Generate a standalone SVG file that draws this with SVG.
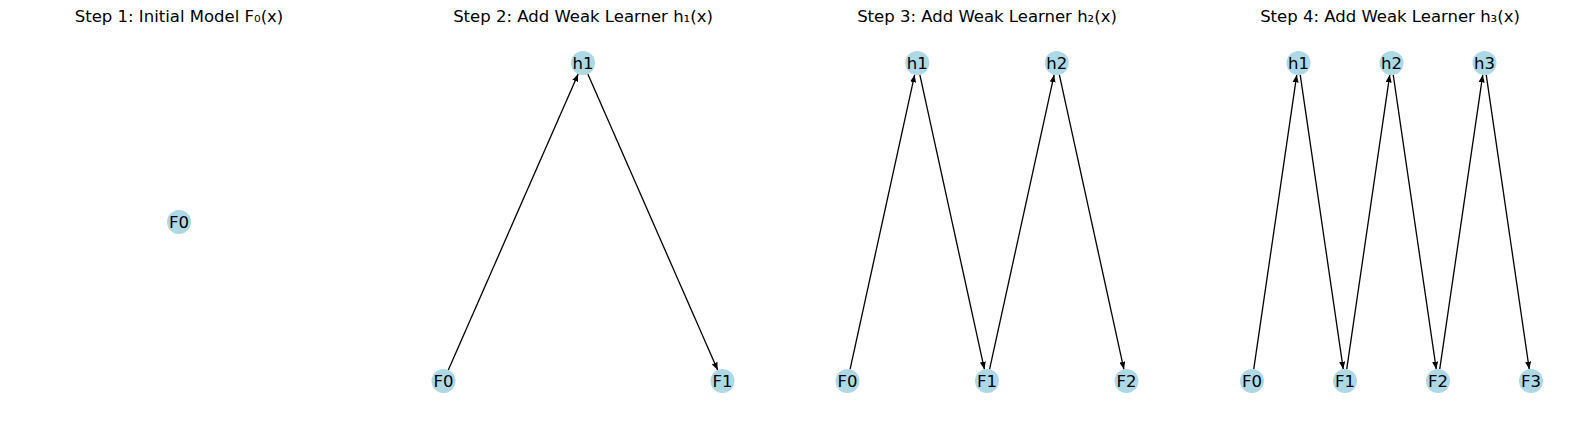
<svg xmlns="http://www.w3.org/2000/svg" width="1570" height="425" viewBox="0 0 1570 425">
<style>
.t{font-family:"DejaVu Sans",sans-serif;font-size:16.5px;fill:#000;text-anchor:middle}
.n circle{fill:#ADD8E6}
.n text{font-family:"DejaVu Sans",sans-serif;font-size:16.5px;fill:#000;text-anchor:middle;dominant-baseline:central}
.e line{stroke:#000;stroke-width:1.3;marker-end:url(#ah)}
</style>
<defs>
<marker id="ah" markerUnits="userSpaceOnUse" markerWidth="8" markerHeight="6" refX="7.5" refY="3" orient="auto">
<path d="M0,0 L7.5,3 L0,6 z" fill="#000"/>
</marker>
</defs>
<rect width="1570" height="425" fill="#fff"/>
<g id="titles">
<text class="t" x="179" y="22">Step 1: Initial Model F₀(x)</text>
<text class="t" x="583" y="22">Step 2: Add Weak Learner h₁(x)</text>
<text class="t" x="987" y="22">Step 3: Add Weak Learner h₂(x)</text>
<text class="t" x="1390" y="22">Step 4: Add Weak Learner h₃(x)</text>
</g>
<g id="connectors" class="e">
<line x1="448.32" y1="370.01" x2="578.18" y2="73.99"/>
<line x1="587.82" y1="73.99" x2="717.68" y2="370.01"/>
<line x1="850.07" y1="369.28" x2="914.68" y2="74.72"/>
<line x1="919.82" y1="74.72" x2="984.43" y2="369.28"/>
<line x1="989.57" y1="369.28" x2="1054.18" y2="74.72"/>
<line x1="1059.32" y1="74.72" x2="1123.93" y2="369.28"/>
<line x1="1253.74" y1="369.13" x2="1296.76" y2="74.87"/>
<line x1="1300.24" y1="74.87" x2="1343.26" y2="369.13"/>
<line x1="1346.74" y1="369.13" x2="1389.76" y2="74.87"/>
<line x1="1393.24" y1="74.87" x2="1436.26" y2="369.13"/>
<line x1="1439.74" y1="369.13" x2="1482.76" y2="74.87"/>
<line x1="1486.24" y1="74.87" x2="1529.26" y2="369.13"/>
</g>
<g id="p1-F0" class="n"><circle cx="179" cy="222" r="12"/><text x="179" y="222">F0</text></g>
<g id="p2-F0" class="n"><circle cx="443.5" cy="381" r="12"/><text x="443.5" y="381">F0</text></g>
<g id="p2-h1" class="n"><circle cx="583" cy="63" r="12"/><text x="583" y="63">h1</text></g>
<g id="p2-F1" class="n"><circle cx="722.5" cy="381" r="12"/><text x="722.5" y="381">F1</text></g>
<g id="p3-F0" class="n"><circle cx="847.5" cy="381" r="12"/><text x="847.5" y="381">F0</text></g>
<g id="p3-h1" class="n"><circle cx="917.25" cy="63" r="12"/><text x="917.25" y="63">h1</text></g>
<g id="p3-F1" class="n"><circle cx="987" cy="381" r="12"/><text x="987" y="381">F1</text></g>
<g id="p3-h2" class="n"><circle cx="1056.75" cy="63" r="12"/><text x="1056.75" y="63">h2</text></g>
<g id="p3-F2" class="n"><circle cx="1126.5" cy="381" r="12"/><text x="1126.5" y="381">F2</text></g>
<g id="p4-F0" class="n"><circle cx="1252" cy="381" r="12"/><text x="1252" y="381">F0</text></g>
<g id="p4-h1" class="n"><circle cx="1298.5" cy="63" r="12"/><text x="1298.5" y="63">h1</text></g>
<g id="p4-F1" class="n"><circle cx="1345" cy="381" r="12"/><text x="1345" y="381">F1</text></g>
<g id="p4-h2" class="n"><circle cx="1391.5" cy="63" r="12"/><text x="1391.5" y="63">h2</text></g>
<g id="p4-F2" class="n"><circle cx="1438" cy="381" r="12"/><text x="1438" y="381">F2</text></g>
<g id="p4-h3" class="n"><circle cx="1484.5" cy="63" r="12"/><text x="1484.5" y="63">h3</text></g>
<g id="p4-F3" class="n"><circle cx="1531" cy="381" r="12"/><text x="1531" y="381">F3</text></g>
</svg>
